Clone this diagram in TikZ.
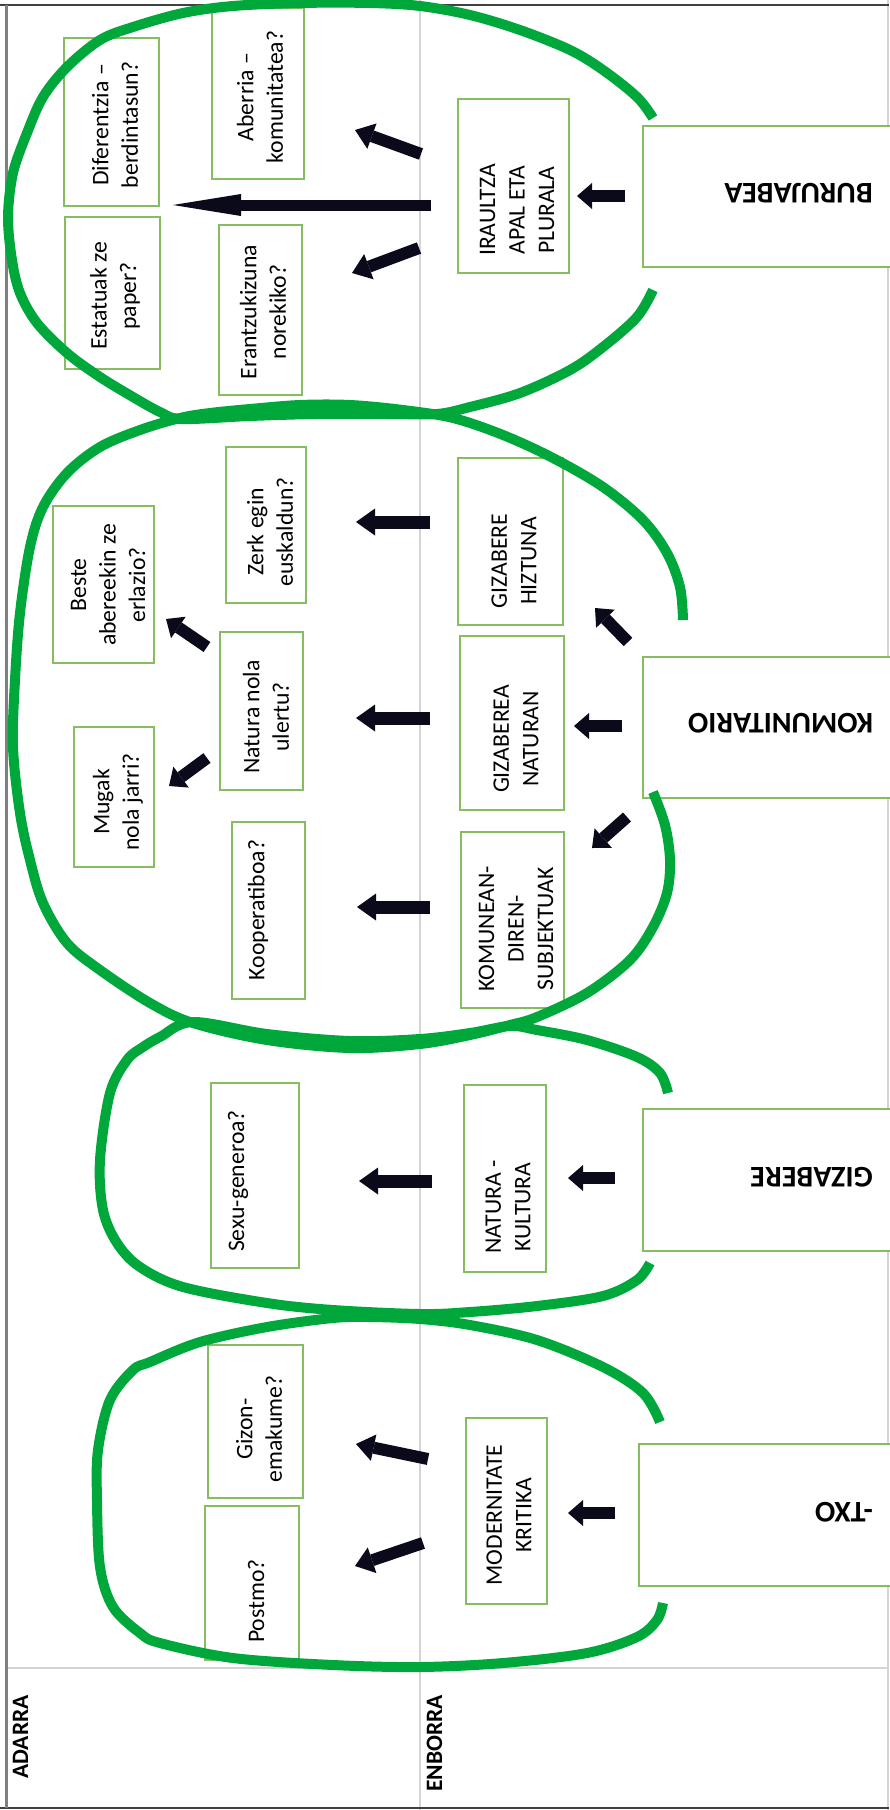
\documentclass[tikz,border=0pt]{standalone}
\usepackage{fontspec}
\setmainfont{Carlito}
\usetikzlibrary{arrows.meta}
\definecolor{gcurve}{RGB}{0,168,60}
\definecolor{gboxc}{RGB}{135,189,98}
\definecolor{arrowc}{RGB}{10,10,26}
\definecolor{gridc}{RGB}{212,212,212}
\tikzset{
  gshape/.style={draw=gcurve, line width=10pt, line cap=butt, line join=round},
  gbox/.style={draw=gboxc, line width=1.6pt, fill=white, inner sep=0pt, outer sep=0pt, anchor=north west},
  qtxt/.style={rotate=90, align=center, inner sep=0pt, font=\fontsize{23.7}{29.5}\selectfont},
  rootlbl/.style={rotate=180, anchor=base west, inner sep=0pt, font=\bfseries\fontsize{30}{36}\selectfont},
  collbl/.style={rotate=90, anchor=base east, inner sep=0pt, font=\bfseries\fontsize{23.5}{28}\selectfont},
  arrS/.style={draw=arrowc, line width=12pt, -{Triangle[length=15pt,width=26pt,line width=0pt]}},
  arrM/.style={draw=arrowc, line width=13pt, -{Triangle[length=19pt,width=27pt,line width=0pt]}},
  arrD/.style={draw=arrowc, line width=12pt, -{Triangle[length=18pt,width=27pt,line width=0pt]}},
  arrB/.style={draw=arrowc, line width=11pt, -{Triangle[length=68pt,width=22pt,line width=0pt]}}
}
\begin{document}
\begin{tikzpicture}[x=1pt,y=-1pt]
\useasboundingbox (0,0) rectangle (889,1810);
% table lines
\draw[gridc, line width=2pt] (420,0) -- (420,1810);
\draw[gridc, line width=2pt] (6,1668) -- (889,1668);
\draw[gridc, line width=1.5pt] (888,0) -- (888,1810);
\draw[black!75, line width=2pt] (0,5) -- (889,5);
\draw[black!75, line width=2.5pt] (0,1808) -- (889,1808);
\draw[black!50, line width=3pt] (6,5) -- (6,1808);

\node[collbl] (adarra) at (28,1695) {ADARRA};
\node[collbl] (enborra) at (442,1695) {ENBORRA};

% boxes
\node[gbox, minimum width=95pt, minimum height=168pt] (dif) at (64,38) {};
\node[gbox, minimum width=95pt, minimum height=152pt] (est) at (65,217) {};
\node[gbox, minimum width=92pt, minimum height=171pt] (abe) at (212,8) {};
\node[gbox, minimum width=83pt, minimum height=170pt] (era) at (219,225) {};
\node[gbox, minimum width=111pt, minimum height=174pt] (ira) at (458,99) {};
\node[gbox, minimum width=320pt, minimum height=141pt] (buru) at (643,126) {};
\node[gbox, minimum width=80pt, minimum height=156pt] (zerk) at (226,447) {};
\node[gbox, minimum width=101pt, minimum height=157pt] (beste) at (53,506) {};
\node[gbox, minimum width=83pt, minimum height=158pt] (natura) at (220,632) {};
\node[gbox, minimum width=80pt, minimum height=140pt] (mugak) at (74,727) {};
\node[gbox, minimum width=73pt, minimum height=177pt] (koop) at (232,822) {};
\node[gbox, minimum width=105pt, minimum height=167pt] (hiz) at (458,458) {};
\node[gbox, minimum width=104pt, minimum height=174pt] (nat) at (460,636) {};
\node[gbox, minimum width=103pt, minimum height=176pt] (kom) at (461,832) {};
\node[gbox, minimum width=320pt, minimum height=141pt] (komroot) at (643,657) {};
\node[gbox, minimum width=88pt, minimum height=185pt] (sexu) at (211,1083) {};
\node[gbox, minimum width=82pt, minimum height=187pt] (natkul) at (464,1085) {};
\node[gbox, minimum width=320pt, minimum height=142pt] (gizroot) at (643,1109) {};
\node[gbox, minimum width=95pt, minimum height=153pt] (gizon) at (208,1345) {};
\node[gbox, minimum width=94pt, minimum height=154pt] (postmo) at (205,1506) {};
\node[gbox, minimum width=81pt, minimum height=186pt] (modern) at (466,1418) {};
\node[gbox, minimum width=320pt, minimum height=142pt] (txoroot) at (639,1444) {};

% texts
\node[qtxt] (t-dif) at (115,125) {Diferentzia –\\berdintasun?};
\node[qtxt] (t-est) at (115,296) {Estatuak ze\\paper?};
\node[qtxt] (t-abe) at (260,97) {Aberria –\\komunitatea?};
\node[qtxt] (t-era) at (263,312) {Erantzukizuna\\norekiko?};
\node[qtxt] (t-ira) at (517,210) {IRAULTZA\\APAL ETA\\PLURALA};
\node[qtxt] (t-zerk) at (270,532) {Zerk egin\\euskaldun?};
\node[qtxt] (t-beste) at (108,585) {Beste\\abereekin ze\\erlazio?};
\node[qtxt] (t-natura) at (266,717) {Natura nola\\ulertu?};
\node[qtxt] (t-mugak) at (118,802) {Mugak\\nola jarri?};
\node[qtxt] (t-koop) at (258,910) {Kooperatiboa?};
\node[qtxt] (t-hiz) at (514,561) {GIZABERE\\HIZTUNA};
\node[qtxt] (t-nat) at (516,739) {GIZABEREA\\NATURAN};
\node[qtxt] (t-kom) at (516,929) {KOMUNEAN-\\DIREN-\\SUBJEKTUAK};
\node[qtxt] (t-sexu) at (238,1181) {Sexu-generoa?};
\node[qtxt] (t-natkul) at (508,1207) {NATURA -\\KULTURA};
\node[qtxt] (t-gizon) at (259,1429) {Gizon-\\emakume?};
\node[qtxt] (t-postmo) at (256,1601) {Postmo?};
\node[qtxt] (t-modern) at (509,1515) {MODERNITATE\\KRITIKA};

\node[rootlbl] (t-buru) at (873,183) {BURUJABEA};
\node[rootlbl] (t-komroot) at (873,713) {KOMUNITARIO};
\node[rootlbl] (t-gizroot) at (873,1167) {GIZABERE};
\node[rootlbl] (t-txoroot) at (873,1502) {-TXO};

% arrow end points
\coordinate (b0s) at (625,196); \coordinate (b0e) at (577,196);
\coordinate (b1s) at (431,205); \coordinate (b1e) at (173,205);
\coordinate (b2s) at (421,154); \coordinate (b2e) at (355,130);
\coordinate (b3s) at (419,248); \coordinate (b3e) at (352,273);
\coordinate (k0s) at (622,726); \coordinate (k0e) at (574,726);
\coordinate (k1s) at (628,642); \coordinate (k1e) at (595,608);
\coordinate (k2s) at (627,817); \coordinate (k2e) at (592,848);
\coordinate (k3s) at (430,522); \coordinate (k3e) at (356,522);
\coordinate (k4s) at (430,718); \coordinate (k4e) at (356,718);
\coordinate (k5s) at (430,907); \coordinate (k5e) at (357,907);
\coordinate (k6s) at (207,647); \coordinate (k6e) at (166,619);
\coordinate (k7s) at (207,758); \coordinate (k7e) at (169,786);
\coordinate (g0s) at (615,1178); \coordinate (g0e) at (568,1178);
\coordinate (g1s) at (432,1181); \coordinate (g1e) at (359,1181);
\coordinate (t0s) at (615,1513); \coordinate (t0e) at (568,1513);
\coordinate (t1s) at (428,1459); \coordinate (t1e) at (356,1444);
\coordinate (t2s) at (423,1543); \coordinate (t2e) at (355,1566);

\draw[arrS] (b0s) -- (b0e);
\draw[arrB] (b1s) -- (b1e);
\draw[arrD] (b2s) -- (b2e);
\draw[arrD] (b3s) -- (b3e);
\draw[arrS] (k0s) -- (k0e);
\draw[arrS] (k1s) -- (k1e);
\draw[arrS] (k2s) -- (k2e);
\draw[arrM] (k3s) -- (k3e);
\draw[arrM] (k4s) -- (k4e);
\draw[arrM] (k5s) -- (k5e);
\draw[arrS] (k6s) -- (k6e);
\draw[arrS] (k7s) -- (k7e);
\draw[arrS] (g0s) -- (g0e);
\draw[arrM] (g1s) -- (g1e);
\draw[arrS] (t0s) -- (t0e);
\draw[arrD] (t1s) -- (t1e);
\draw[arrD] (t2s) -- (t2e);

% green shapes
\draw[gshape] plot[smooth, tension=0.55] coordinates {
 (653,118) (637,97) (603,70) (570,50) (520,30) (470,15) (420,6) (370,3) (300,3) (233,6) (183,13) (133,27) (100,40) (67,67) (43,97) (27,133) (13,173) (8,217) (12,260) (20,293) (37,323) (67,353) (100,377) (133,397) (160,412) (182,419) (250,416) (317,414) (390,414) (437,414) (470,407) (520,393) (570,370) (603,347) (637,317) (653,290)};
\draw[gshape] plot[smooth, tension=0.55] coordinates {
 (683,620) (680,587) (667,553) (643,520) (603,487) (553,458) (503,435) (453,418) (403,410) (350,405) (300,405) (250,409) (210,413) (180,418) (140,430) (100,447) (67,473) (43,507) (30,547) (20,613) (15,680) (13,747) (20,813) (30,860) (43,903) (67,943) (100,970) (150,1003) (193,1023) (267,1040) (350,1048) (420,1044) (470,1035) (510,1025) (537,1017) (587,993) (630,960) (653,927) (667,893) (670,860) (665,825) (653,792)};
\draw[gshape] plot[smooth, tension=0.55] coordinates {
 (668,1093) (660,1073) (637,1057) (587,1040) (537,1030) (510,1026) (470,1033) (420,1039) (350,1041) (267,1034) (193,1022) (160,1037) (143,1047) (127,1060) (110,1093) (100,1160) (103,1210) (117,1243) (140,1267) (183,1287) (267,1303) (333,1310) (420,1314) (470,1312) (537,1306) (603,1296) (637,1280) (650,1263)};
\draw[gshape] plot[smooth, tension=0.55] coordinates {
 (660,1422) (643,1393) (603,1367) (537,1340) (470,1325) (420,1319) (370,1317) (333,1318) (267,1327) (200,1342) (150,1362) (133,1370) (110,1400) (98,1450) (97,1500) (100,1567) (113,1607) (140,1633) (160,1643) (233,1658) (333,1665) (420,1667) (503,1663) (587,1653) (637,1637) (657,1620) (663,1603)};
\end{tikzpicture}
\end{document}
